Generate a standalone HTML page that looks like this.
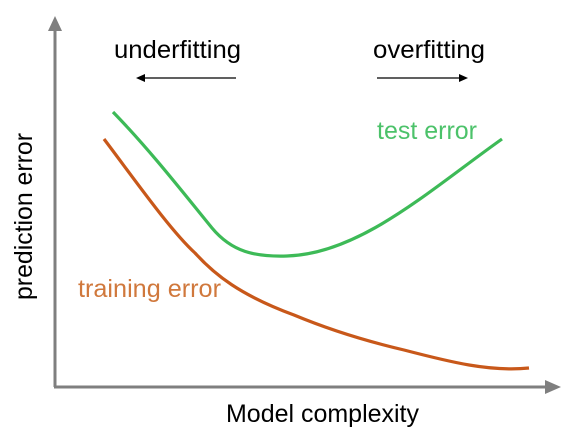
<!DOCTYPE html>
<html><head><style>body{margin:0;background:#fff}svg{display:block}text{font-family:"Liberation Sans",sans-serif;font-weight:300}</style></head>
<body>
<svg width="571" height="444" viewBox="0 0 571 444" xmlns="http://www.w3.org/2000/svg">
<line x1="55" y1="387" x2="55" y2="30" stroke="#7f7f7f" stroke-width="3"/>
<polygon points="48,31 55,16 62,31" fill="#7f7f7f"/>
<line x1="54" y1="387" x2="548" y2="387" stroke="#7f7f7f" stroke-width="3"/>
<polygon points="545,380 561,387 545,394" fill="#7f7f7f"/>
<line x1="142" y1="78" x2="236" y2="78" stroke="#000" stroke-width="1.2"/>
<polygon points="136,78 145,74 145,82" fill="#000"/>
<line x1="377" y1="78" x2="460" y2="78" stroke="#000" stroke-width="1.2"/>
<polygon points="468,78 459,74 459,82" fill="#000"/>
<path d="M113,112 C150,150 185,195 212,228 C232,252 255,257 287,256 C360,254 430,190 502,139" fill="none" stroke="#3dba57" stroke-width="3.2"/>
<path d="M104,139 C135,180 170,230 195,253 C215,275 240,295 294,315 C330,330 370,342 404,350 C450,362 490,372 529,368" fill="none" stroke="#c8581a" stroke-width="3.2"/>
<text x="114" y="58" font-size="25" textLength="127" lengthAdjust="spacingAndGlyphs" fill="#000">underfitting</text>
<text x="373" y="58" font-size="25" textLength="112" lengthAdjust="spacingAndGlyphs" fill="#000">overfitting</text>
<text x="377" y="139" font-size="25" textLength="100" lengthAdjust="spacingAndGlyphs" fill="#4cc26a">test error</text>
<text x="78" y="297" font-size="25" textLength="143" lengthAdjust="spacingAndGlyphs" fill="#d0783c">training error</text>
<text x="226" y="422" font-size="25" textLength="193" lengthAdjust="spacingAndGlyphs" fill="#000">Model complexity</text>
<text transform="translate(32,300) rotate(-90)" font-size="25" textLength="167" lengthAdjust="spacingAndGlyphs" fill="#000">prediction error</text>
</svg>
</body></html>
